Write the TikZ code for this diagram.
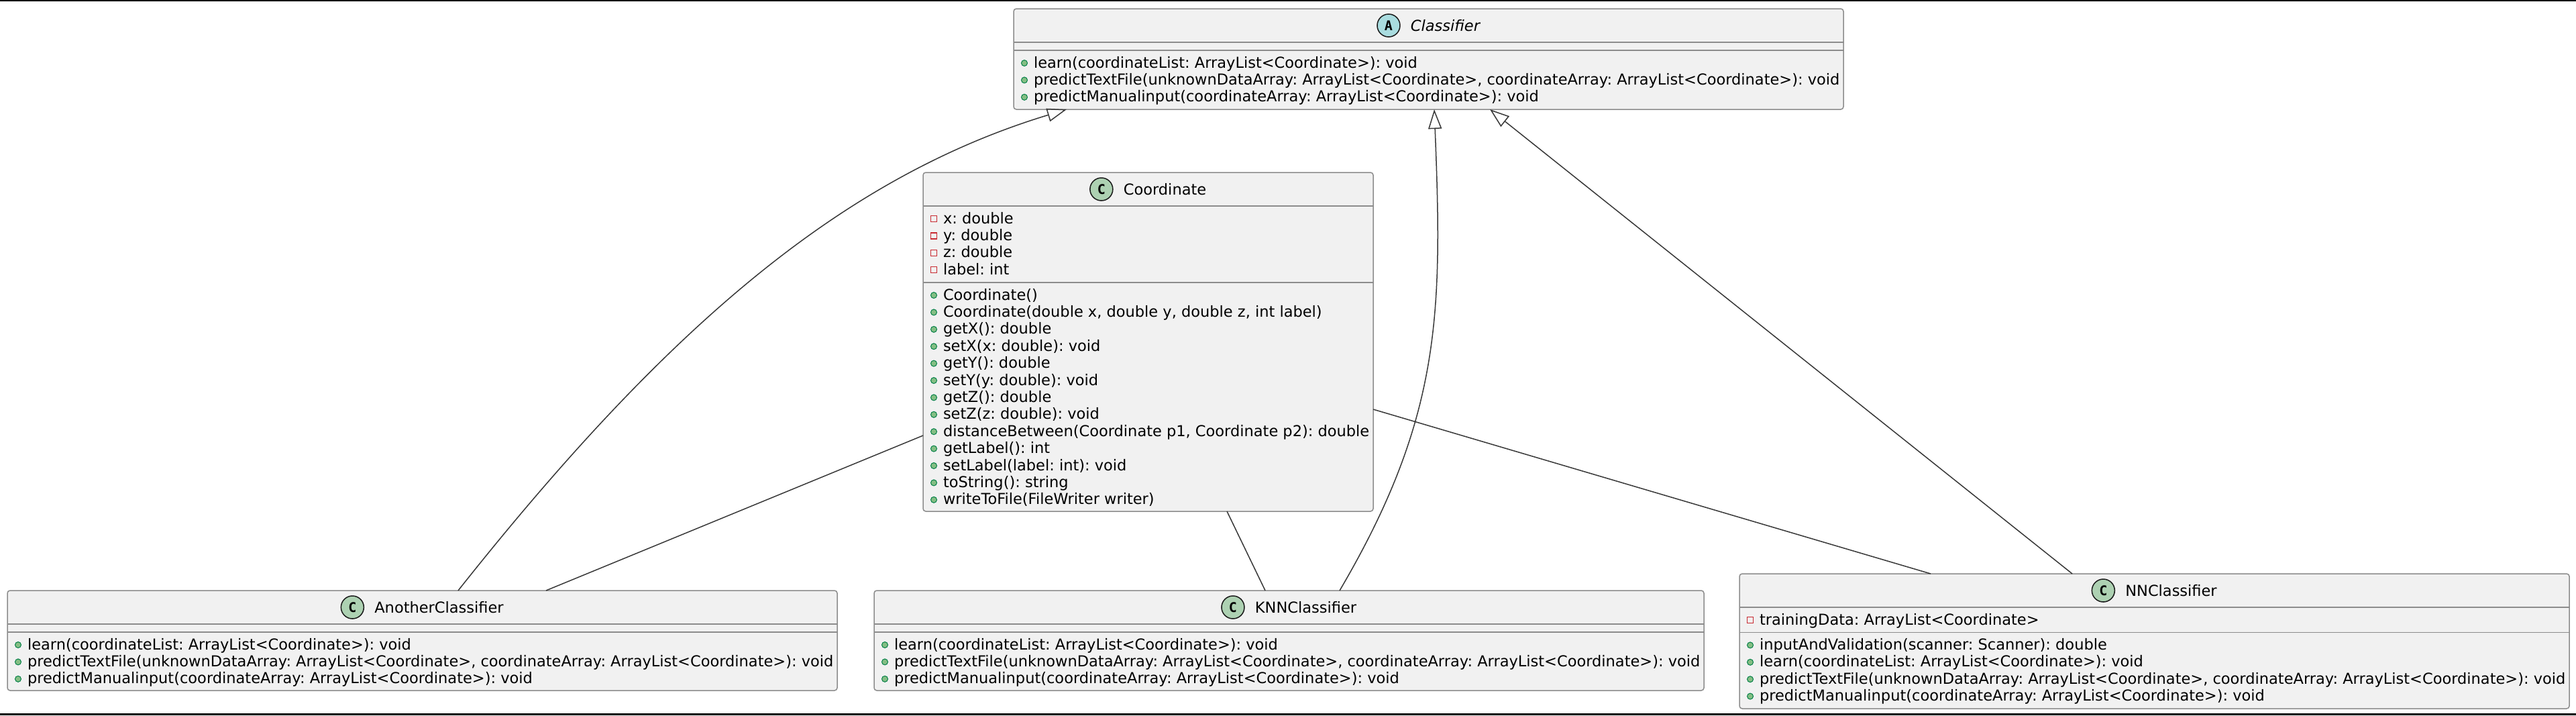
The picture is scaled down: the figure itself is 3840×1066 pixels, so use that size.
\documentclass[tikz,border=0pt]{standalone}
\usepackage{fontspec}
\setmainfont{DejaVu Sans}
\newfontfamily\spotfont{DejaVu Sans Mono}
\usetikzlibrary{arrows.meta}
\frenchspacing
\definecolor{boxfill}{HTML}{F1F1F1}
\definecolor{boxline}{HTML}{8C8C8C}
\definecolor{conn}{HTML}{383838}
\definecolor{spotC}{HTML}{ADD1B2}
\definecolor{spotA}{HTML}{A9DCDF}
\definecolor{pubfill}{HTML}{84BE84}
\definecolor{publine}{HTML}{038048}
\definecolor{privline}{HTML}{C82930}
\newcommand\pubrow[4]{%
  \node[member] (#1) at (#2+30,#3) {#4};
  \filldraw[pubdot] (#2+16,#3-7) circle (4.5);
}
\newcommand\privrow[4]{%
  \node[member] (#1) at (#2+30,#3) {#4};
  \draw[privsq] (#2+11.5,#3-11.5) rectangle (#2+20.5,#3-2.5);
}
\begin{document}
\begin{tikzpicture}[x=1pt,y=-1pt,
  classbox/.style={draw=boxline, fill=boxfill, line width=1.5pt, rounded corners=4pt, inner sep=0pt, outer sep=0pt, anchor=north west},
  sepline/.style={draw=boxline, line width=1.5pt},
  member/.style={anchor=base west, inner sep=0pt, outer sep=0pt, font=\fontsize{22.5}{25.4}\selectfont\frenchspacing},
  ctitle/.style={anchor=base, inner sep=0pt, outer sep=0pt, font=\fontsize{22.5}{25.4}\selectfont},
  spot/.style={circle, draw=black!90, line width=1.5pt, minimum size=34pt, inner sep=0pt, font=\spotfont\bfseries\fontsize{20}{20}\selectfont},
  pubdot/.style={fill=pubfill, draw=publine, line width=1pt},
  privsq/.style={draw=privline, line width=1.2pt},
  assoc/.style={draw=conn, line width=1.5pt},
  inherit/.style={draw=conn, line width=1.5pt, -{Triangle[open, length=29pt, width=20pt]}}
]
\useasboundingbox (0,0) rectangle (3840,1066);
\fill[white] (0,0) rectangle (3840,1066);
\fill[black] (0,0) rectangle (3840,2);
\fill[black] (0,1063) rectangle (3840,1066);

% Classifier
\node[classbox, minimum width=1237pt, minimum height=150pt] (cls) at (1511,13) {};
\draw[sepline] (1511,63) -- (2748,63);
\draw[sepline] (1511,75) -- (2748,75);
\node[ctitle, font=\fontsize{22.5}{25.4}\selectfont\itshape] (tCls) at (2154.5,46) {Classifier};
\node[spot, fill=spotA] (sCls) at ([xshift=-33pt,yshift=8pt]tCls.base west) {A};
\pubrow{c1}{1511}{101}{learn(coordinateList: ArrayList<Coordinate>): void}
\pubrow{c2}{1511}{126.4}{predictTextFile(unknownDataArray: ArrayList<Coordinate>, coordinateArray: ArrayList<Coordinate>): void}
\pubrow{c3}{1511}{151.8}{predictManualinput(coordinateArray: ArrayList<Coordinate>): void}

% Coordinate
\node[classbox, minimum width=671pt, minimum height=505pt] (coord) at (1376,257) {};
\draw[sepline] (1376,307) -- (2047,307);
\draw[sepline] (1376,421) -- (2047,421);
\node[ctitle] (tCoord) at (1736.5,290) {Coordinate};
\node[spot, fill=spotC] (sCoord) at ([xshift=-33pt,yshift=8pt]tCoord.base west) {C};
\privrow{f1}{1376}{333}{x: double}
\privrow{f2}{1376}{358.4}{y: double}
\privrow{f3}{1376}{383.8}{z: double}
\privrow{f4}{1376}{409.2}{label: int}
\pubrow{m1}{1376}{447}{Coordinate()}
\pubrow{m2}{1376}{472.4}{Coordinate(double x, double y, double z, int label)}
\pubrow{m3}{1376}{497.8}{getX(): double}
\pubrow{m4}{1376}{523.2}{setX(x: double): void}
\pubrow{m5}{1376}{548.6}{getY(): double}
\pubrow{m6}{1376}{574}{setY(y: double): void}
\pubrow{m7}{1376}{599.4}{getZ(): double}
\pubrow{m8}{1376}{624.8}{setZ(z: double): void}
\pubrow{m9}{1376}{650.2}{distanceBetween(Coordinate p1, Coordinate p2): double}
\pubrow{m10}{1376}{675.6}{getLabel(): int}
\pubrow{m11}{1376}{701}{setLabel(label: int): void}
\pubrow{m12}{1376}{726.4}{toString(): string}
\pubrow{m13}{1376}{751.8}{writeToFile(FileWriter writer)}

% AnotherClassifier
\node[classbox, minimum width=1237pt, minimum height=149pt] (another) at (11,880) {};
\draw[sepline] (11,930) -- (1248,930);
\draw[sepline] (11,942) -- (1248,942);
\node[ctitle] (tAnother) at (654.5,913) {AnotherClassifier};
\node[spot, fill=spotC] (sAnother) at ([xshift=-33pt,yshift=8pt]tAnother.base west) {C};
\pubrow{a1}{11}{968}{learn(coordinateList: ArrayList<Coordinate>): void}
\pubrow{a2}{11}{993.4}{predictTextFile(unknownDataArray: ArrayList<Coordinate>, coordinateArray: ArrayList<Coordinate>): void}
\pubrow{a3}{11}{1018.8}{predictManualinput(coordinateArray: ArrayList<Coordinate>): void}

% KNNClassifier
\node[classbox, minimum width=1237pt, minimum height=149pt] (knn) at (1303,880) {};
\draw[sepline] (1303,930) -- (2540,930);
\draw[sepline] (1303,942) -- (2540,942);
\node[ctitle] (tKnn) at (1946.5,913) {KNNClassifier};
\node[spot, fill=spotC] (sKnn) at ([xshift=-33pt,yshift=8pt]tKnn.base west) {C};
\pubrow{k1}{1303}{968}{learn(coordinateList: ArrayList<Coordinate>): void}
\pubrow{k2}{1303}{993.4}{predictTextFile(unknownDataArray: ArrayList<Coordinate>, coordinateArray: ArrayList<Coordinate>): void}
\pubrow{k3}{1303}{1018.8}{predictManualinput(coordinateArray: ArrayList<Coordinate>): void}

% NNClassifier
\node[classbox, minimum width=1237pt, minimum height=201pt] (nn) at (2593,855) {};
\draw[sepline] (2593,905) -- (3830,905);
\draw[sepline] (2593,942.4) -- (3830,942.4);
\node[ctitle] (tNn) at (3236.5,888) {NNClassifier};
\node[spot, fill=spotC] (sNn) at ([xshift=-33pt,yshift=8pt]tNn.base west) {C};
\privrow{n0}{2593}{931}{trainingData: ArrayList<Coordinate>}
\pubrow{n1}{2593}{968.4}{inputAndValidation(scanner: Scanner): double}
\pubrow{n2}{2593}{993.8}{learn(coordinateList: ArrayList<Coordinate>): void}
\pubrow{n3}{2593}{1019.2}{predictTextFile(unknownDataArray: ArrayList<Coordinate>, coordinateArray: ArrayList<Coordinate>): void}
\pubrow{n4}{2593}{1044.6}{predictManualinput(coordinateArray: ArrayList<Coordinate>): void}

% connectors
\draw[inherit] ([xshift=672pt]another.north west) .. controls (993,489) and (1254,265) .. ([xshift=79pt]cls.south west);
\draw[assoc] ([yshift=-392pt]coord.north west) -- ([xshift=803pt]another.north west);
\draw[assoc] ([xshift=453pt]coord.south west) -- ([xshift=583pt]knn.north west);
\draw[inherit] ([xshift=694pt]knn.north west) .. controls (2150,620) and (2150,463) .. ([xshift=627pt]cls.south west);
\draw[assoc] ([yshift=-353pt]coord.north east) -- ([xshift=285pt]nn.north west);
\draw[inherit] ([xshift=496pt]nn.north west) -- ([xshift=710pt]cls.south west);
\end{tikzpicture}
\end{document}
